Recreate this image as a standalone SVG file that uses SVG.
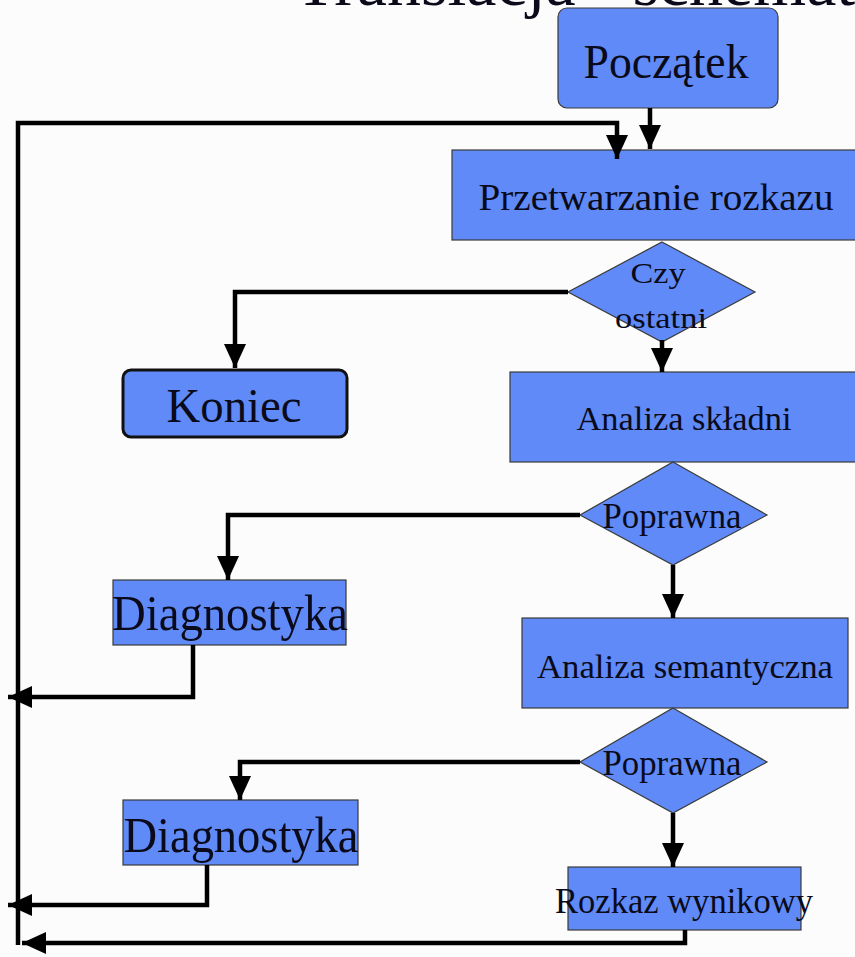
<svg xmlns="http://www.w3.org/2000/svg" width="855" height="957" viewBox="0 0 855 957">
<style>
.bg{fill:#fcfcfc}
.box{fill:#5f8af7;stroke:#3a3a3a;stroke-width:1.2}
.term{fill:#5f8af7;stroke:#111;stroke-width:3}
.t{font-family:"Liberation Serif","Times New Roman",serif;fill:#0a0a1a;text-anchor:middle}
.c{fill:none;stroke:#000;stroke-width:4.5;stroke-linejoin:miter}
</style>
<defs>
<marker id="ah" viewBox="0 0 24 24" markerUnits="userSpaceOnUse" markerWidth="24" markerHeight="24" refX="24" refY="12" orient="auto">
<path d="M0,1 L24,12 L0,23 z" fill="#000"/>
</marker>
</defs>
<rect class="bg" x="0" y="0" width="855" height="957"/>
<text class="t" x="295" y="5" font-size="68" style="text-anchor:start">Translacja - schemat</text>

<g id="poczatek">
<rect class="box" x="558" y="8" width="220" height="100" rx="9"/>
<text class="t" x="666" y="78" font-size="48" textLength="165" lengthAdjust="spacingAndGlyphs">Początek</text>
</g>
<g id="przetwarzanie">
<rect class="box" x="452" y="150" width="410" height="90"/>
<text class="t" x="656" y="210" font-size="38" textLength="355" lengthAdjust="spacingAndGlyphs">Przetwarzanie rozkazu</text>
</g>
<g id="czy-ostatni">
<polygon class="box" points="662,242 755,292 662,342 568,292"/>
<text class="t" x="658" y="283" font-size="30" textLength="55" lengthAdjust="spacingAndGlyphs">Czy</text>
<text class="t" x="661" y="328" font-size="30" textLength="92" lengthAdjust="spacingAndGlyphs">ostatni</text>
</g>
<g id="koniec">
<rect class="term" x="123" y="370" width="224" height="67" rx="8"/>
<text class="t" x="234" y="422" font-size="48" textLength="135" lengthAdjust="spacingAndGlyphs">Koniec</text>
</g>
<g id="analiza-skladni">
<rect class="box" x="510" y="372" width="352" height="90"/>
<text class="t" x="684" y="430" font-size="34" textLength="215" lengthAdjust="spacingAndGlyphs">Analiza składni</text>
</g>
<g id="poprawna1">
<polygon class="box" points="673,462 767,515 673,565 580,515"/>
<text class="t" x="672" y="528" font-size="36" textLength="139" lengthAdjust="spacingAndGlyphs">Poprawna</text>
</g>
<g id="diagnostyka1">
<rect class="box" x="113" y="580" width="233" height="65"/>
<text class="t" x="230" y="630" font-size="50" textLength="236" lengthAdjust="spacingAndGlyphs">Diagnostyka</text>
</g>
<g id="analiza-semantyczna">
<rect class="box" x="522" y="618" width="326" height="90"/>
<text class="t" x="685" y="678" font-size="34" textLength="296" lengthAdjust="spacingAndGlyphs">Analiza semantyczna</text>
</g>
<g id="poprawna2">
<polygon class="box" points="673,708 767,762 673,813 580,762"/>
<text class="t" x="672" y="775" font-size="36" textLength="139" lengthAdjust="spacingAndGlyphs">Poprawna</text>
</g>
<g id="diagnostyka2">
<rect class="box" x="123" y="800" width="235" height="65"/>
<text class="t" x="241" y="852" font-size="50" textLength="235" lengthAdjust="spacingAndGlyphs">Diagnostyka</text>
</g>
<g id="rozkaz-wynikowy">
<rect class="box" x="568" y="867" width="233" height="63"/>
<text class="t" x="684" y="913" font-size="36" textLength="258" lengthAdjust="spacingAndGlyphs">Rozkaz wynikowy</text>
</g>

<g id="connectors">
<path class="c" d="M650,108 L650,149" marker-end="url(#ah)"/>
<path class="c" d="M18,945 L18,123 L617,123 L617,159" marker-end="url(#ah)"/>
<path class="c" d="M568,292 L235,292 L235,368" marker-end="url(#ah)"/>
<path class="c" d="M662,340 L662,372" marker-end="url(#ah)"/>
<path class="c" d="M580,515 L228,515 L228,580" marker-end="url(#ah)"/>
<path class="c" d="M673,565 L673,618" marker-end="url(#ah)"/>
<path class="c" d="M193,645 L193,697 L8,697" marker-end="url(#ah)"/>
<path class="c" d="M580,762 L240,762 L240,800" marker-end="url(#ah)"/>
<path class="c" d="M673,813 L673,867" marker-end="url(#ah)"/>
<path class="c" d="M207,865 L207,905 L8,905" marker-end="url(#ah)"/>
<path class="c" d="M685,930 L685,943 L22,943" marker-end="url(#ah)"/>
</g>
</svg>
